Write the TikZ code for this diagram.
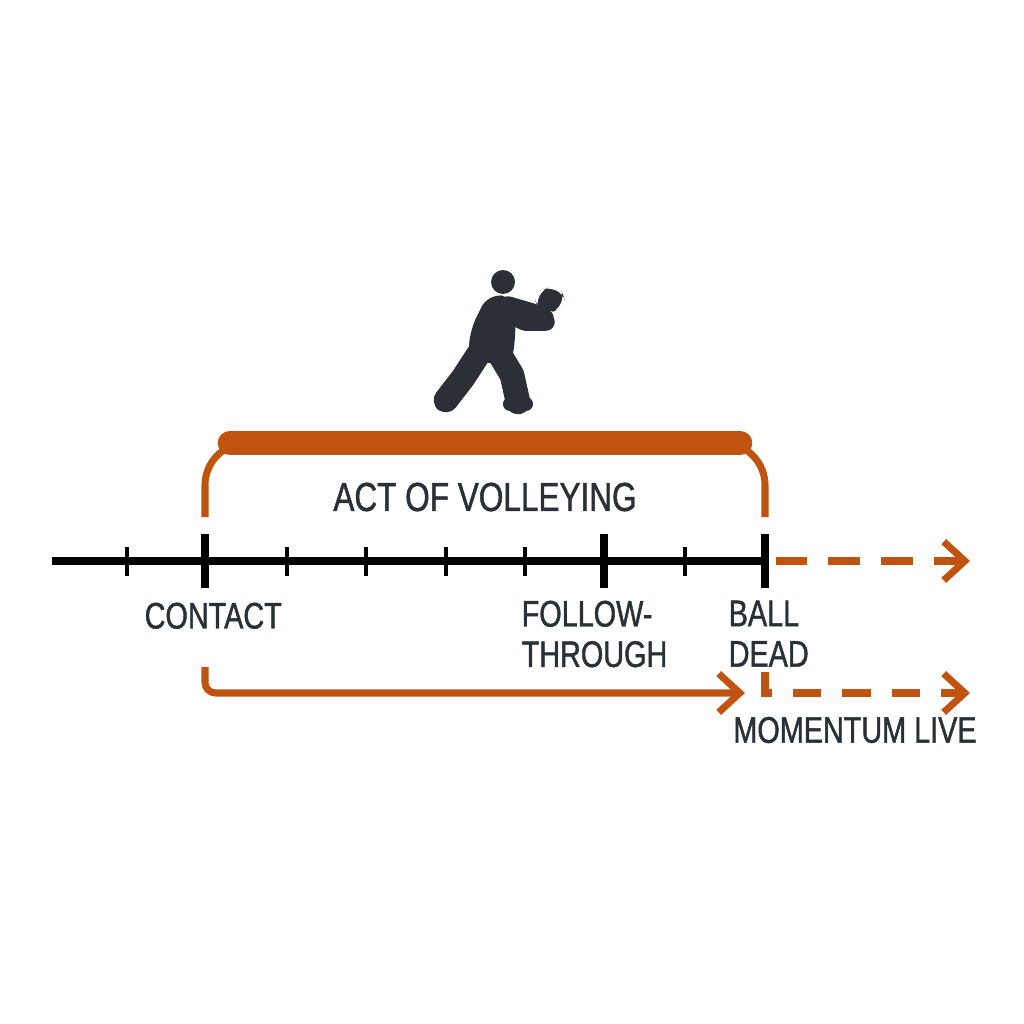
\documentclass[tikz,border=0pt]{standalone}
\usepackage{fontspec}
\setmainfont{Liberation Sans}[FakeStretch=0.78,FakeBold=1.2]
\usetikzlibrary{arrows.meta,positioning}
\definecolor{rust}{HTML}{C0530F}
\definecolor{ink}{HTML}{2A3036}
\tikzset{
  lbl/.style={text=ink,font=\fontsize{10.5}{11.5}\selectfont,align=left,inner sep=0pt},
  tick/.style={black,line width=1.2pt},
  bigtick/.style={black,line width=2.4pt},
  live/.style={rust,line width=2pt,-{Straight Barb[length=6pt,width=11pt,line width=2pt]}},
  body/.style={ink,line cap=round,line join=round}
}
\begin{document}
\begin{tikzpicture}[x=0.01cm,y=-0.01cm]
  \useasboundingbox (0,0) rectangle (1024,1024);

  % timeline
  \coordinate (start) at (52,561);
  \coordinate (dead) at (765,561);
  \coordinate (farend) at (970,561);
  \draw[black,line width=2pt] (start) -- (dead);
  \foreach \x in {127,287,366,446,525,685}
    \draw[tick] (\x,547) -- (\x,576);
  \foreach \x/\n in {205/contact,604/follow,765/ball}
    \draw[bigtick] (\x,534) coordinate (\n top) -- (\x,588) coordinate (\n bot);
  \draw[live,dash pattern=on 9pt off 6pt,shorten <=3pt] (dead) -- (farend);

  % bracket
  \coordinate (bl) at (205,517);
  \coordinate (br) at (765,517);
  \draw[rust,line width=2pt,rounded corners=12pt] (bl) -- (205,443) -- (765,443) -- (br);
  \draw[rust,line width=7pt,line cap=round] (230,443) -- (740,443);
  \node[lbl,font=\fontsize{11.5}{12.5}\selectfont] (act) at (485,497) {ACT OF VOLLEYING};

  % labels
  \node[lbl,anchor=north west] (clbl) at (144,602) {CONTACT};
  \node[lbl,anchor=north west] (flbl) at (521,600) {FOLLOW-\\THROUGH};
  \node[lbl,anchor=north west] (blbl) at (728,600) {BALL\\DEAD};

  % momentum arrows
  \coordinate (c1) at (205,667);
  \coordinate (c2) at (745,693);
  \coordinate (d1) at (765,672);
  \coordinate (d2) at (970,693);
  \draw[live,rounded corners=3pt] (c1) |- (c2);
  \draw[live,dash pattern=on 8pt off 6pt] (d1) |- (d2);
  \node[lbl] (mlive) at (855,730) {MOMENTUM LIVE};

  % player
  \fill[ink] (503,282) circle (12);
  \fill[ink,rounded corners=4pt] (488,294) -- (514,297) -- (516,330) -- (512,364) -- (468,362) -- (470,330) -- cycle;
  \draw[body,line width=5pt] (508,305) -- (532,312) -- (545,318);
  \draw[body,line width=5pt] (500,310) -- (525,322) -- (546,322);
  \fill[ink,rounded corners=5pt,rotate around={20:(550,300)}] (536,288) rectangle (564,312);
  \draw[body,line width=7pt] (478,355) -- (463,378) -- (446,400);
  \draw[body,line width=7pt] (500,355) -- (512,375) -- (518,402);
  \draw[body,line width=4pt] (442,404) -- (450,398);
  \draw[body,line width=4pt] (510,404) -- (526,404);
\end{tikzpicture}
\end{document}
